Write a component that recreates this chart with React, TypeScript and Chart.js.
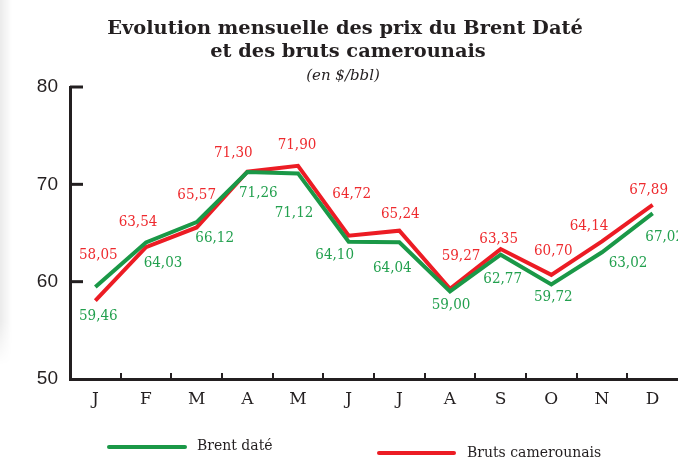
import React, { useEffect, useRef } from "react";
import { Chart, registerables } from "chart.js";
Chart.register(...registerables);

const months = ["J", "F", "M", "A", "M", "J", "J", "A", "S", "O", "N", "D"];
const brentDate = [59.46, 64.03, 66.12, 71.26, 71.12, 64.1, 64.04, 59.0, 62.77, 59.72, 63.02, 67.02];
const brutsCamerounais = [58.05, 63.54, 65.57, 71.3, 71.9, 64.72, 65.24, 59.27, 63.35, 60.7, 64.14, 67.89];
const yMin = 50;
const yMax = 80;
const yStep = 10;
const titleLines = ["Evolution mensuelle des prix du Brent Daté", "et des bruts camerounais"];
const subtitle = "(en $/bbl)";
const seriesNames = ["Brent daté", "Bruts camerounais"];

// label placement offsets (pixels, relative to the point)
const greenLabelOffsets: [number, number][] = [
  [3, 29], [17, 21], [18, 16], [11, 21], [-4, 40], [-14, 13],
  [-7, 26], [1, 14], [2, 24], [2, 13], [26, 11], [12, 24],
];
const redLabelOffsets: [number, number][] = [
  [3, -46], [-8, -25], [0, -32], [-14, -19], [-1, -21], [3, -42],
  [1, -17], [11, -33], [-2, -10], [2, -24], [-13, -15], [-4, -15],
];

const GREEN = "#1a9847";
const RED = "#ec1c24";
const GREEN_TXT = "#22a04e";
const RED_TXT = "#ee2a2e";
const DARK = "#231f20";
const LABEL_FONT = '15px "DejaVu Serif Condensed", "DejaVu Serif", serif';

const fmt = (v: number) => v.toFixed(2).replace(".", ",");

const decorPlugin = {
  id: "decor",
  afterDatasetsDraw(chart: any) {
    const ctx = chart.ctx as CanvasRenderingContext2D;
    const x = chart.scales.x;
    const y = chart.scales.y;
    const area = chart.chartArea;
    ctx.save();
    // inward ticks
    ctx.strokeStyle = DARK;
    ctx.lineWidth = 3;
    for (let v = yMin + yStep; v <= yMax; v += yStep) {
      const py = y.getPixelForValue(v);
      ctx.beginPath();
      ctx.moveTo(area.left, py);
      ctx.lineTo(area.left + 13, py);
      ctx.stroke();
    }
    ctx.lineWidth = 2;
    const w = (area.right - area.left) / months.length;
    for (let i = 1; i < months.length; i++) {
      const px = Math.round(area.left + i * w);
      ctx.beginPath();
      ctx.moveTo(px, area.bottom);
      ctx.lineTo(px, area.bottom - 6);
      ctx.stroke();
    }
    // data labels
    ctx.font = LABEL_FONT;
    ctx.textAlign = "center";
    ctx.textBaseline = "middle";
    brentDate.forEach((v, i) => {
      const px = x.getPixelForValue(i);
      const py = y.getPixelForValue(v);
      ctx.fillStyle = GREEN_TXT;
      ctx.fillText(fmt(v), px + greenLabelOffsets[i][0], py + greenLabelOffsets[i][1]);
    });
    brutsCamerounais.forEach((v, i) => {
      const px = x.getPixelForValue(i);
      const py = y.getPixelForValue(v);
      ctx.fillStyle = RED_TXT;
      ctx.fillText(fmt(v), px + redLabelOffsets[i][0], py + redLabelOffsets[i][1]);
    });
    // titles
    ctx.fillStyle = DARK;
    ctx.textBaseline = "alphabetic";
    ctx.font = 'bold 19.4px "DejaVu Serif", serif';
    ctx.fillText(titleLines[0], 345, 34);
    ctx.fillText(titleLines[1], 348, 57);
    ctx.font = 'italic 15px "DejaVu Serif", serif';
    ctx.fillText(subtitle, 343, 80);
    // legend
    ctx.lineWidth = 4;
    ctx.lineCap = "round";
    ctx.strokeStyle = GREEN;
    ctx.beginPath();
    ctx.moveTo(109, 447);
    ctx.lineTo(185, 447);
    ctx.stroke();
    ctx.strokeStyle = RED;
    ctx.beginPath();
    ctx.moveTo(379, 453);
    ctx.lineTo(454, 453);
    ctx.stroke();
    ctx.textAlign = "left";
    ctx.textBaseline = "middle";
    ctx.font = '14px "DejaVu Serif", serif';
    ctx.fillStyle = DARK;
    ctx.fillText(seriesNames[0], 197, 446);
    ctx.fillText(seriesNames[1], 467, 453);
    ctx.restore();
  },
};

export default function App() {
  const ref = useRef<HTMLCanvasElement | null>(null);
  useEffect(() => {
    if (!ref.current) return;
    const chart = new Chart(ref.current, {
      type: "line",
      data: {
        labels: months,
        datasets: [
          {
            label: seriesNames[0],
            data: brentDate,
            borderColor: GREEN,
            borderWidth: 4,
            pointRadius: 0,
            tension: 0,
            borderJoinStyle: "miter",
          },
          {
            label: seriesNames[1],
            data: brutsCamerounais,
            borderColor: RED,
            borderWidth: 4,
            pointRadius: 0,
            tension: 0,
            borderJoinStyle: "miter",
          },
        ],
      },
      options: {
        responsive: false,
        animation: false,
        layout: { padding: { top: 87, left: 0, right: 0, bottom: 0 } },
        plugins: { legend: { display: false }, tooltip: { enabled: false }, title: { display: false } },
        scales: {
          x: {
            type: "category",
            offset: true,
            grid: { display: false, drawTicks: false },
            border: { display: true, color: DARK, width: 3 },
            ticks: {
              color: DARK,
              padding: 10,
              font: { family: '"DejaVu Serif", serif', size: 17 },
              maxRotation: 0,
              autoSkip: false,
            },
            afterFit: (s: any) => {
              s.height = 81;
            },
          },
          y: {
            min: yMin,
            max: yMax,
            grid: { display: false, drawTicks: false },
            border: { display: true, color: DARK, width: 3 },
            ticks: {
              stepSize: yStep,
              color: DARK,
              padding: 12,
              font: { family: '"Liberation Sans", Arial, sans-serif', size: 19 },
            },
            afterFit: (s: any) => {
              s.width = 70;
            },
          },
        },
      },
      plugins: [decorPlugin],
    });
    return () => chart.destroy();
  }, []);
  return (
    <div style={{ position: "fixed", left: 0, top: 0, width: 678, height: 460, background: "#fff", overflow: "hidden" }}>
      <div
        style={{
          position: "absolute",
          left: 0,
          top: 0,
          width: 12,
          height: 365,
          background: "linear-gradient(to right, rgba(0,0,0,0.08), rgba(0,0,0,0))",
          WebkitMaskImage: "linear-gradient(to bottom, #000 88%, transparent)",
          maskImage: "linear-gradient(to bottom, #000 88%, transparent)",
        }}
      />
      <canvas ref={ref} width={678} height={460} style={{ position: "absolute", left: 0, top: 0 }} />
    </div>
  );
}
